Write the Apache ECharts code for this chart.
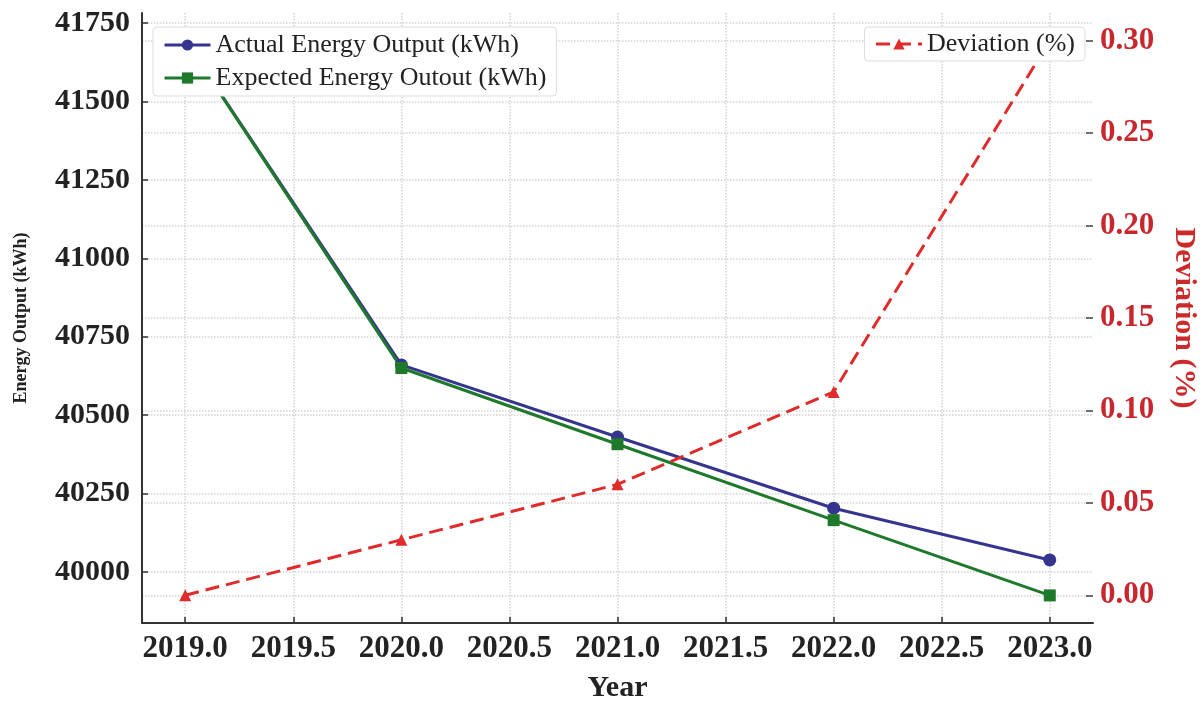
<!DOCTYPE html>
<html>
<head>
<meta charset="utf-8">
<script src="https://cdn.jsdelivr.net/npm/echarts@6/dist/echarts.min.js"></script>
<style>
  html, body { margin: 0; padding: 0; background: #fff; }
  #chart { width: 1203px; height: 702px; }
</style>
</head>
<body>
<div id="chart"></div>
<script>
// 数据
const years = [2019, 2020, 2021, 2022, 2023]
const actualOutput = [41694, 40660, 40430, 40203, 40038]
const expectedOutput = [41694, 40650, 40407, 40165, 39925]
const deviation = [0.0, 0.03, 0.06, 0.11, 0.30]
const xTicks = [2019, 2019.5, 2020, 2020.5, 2021, 2021.5, 2022, 2022.5, 2023]
const leftTicks = [40000, 40250, 40500, 40750, 41000, 41250, 41500, 41750]
const rightTicks = [0, 0.05, 0.1, 0.15, 0.2, 0.25, 0.3]

const pair = (xs, ys) => xs.map((x, i) => [x, ys[i]])

const serif = 'Liberation Serif'
const gridLine = { show: true, lineStyle: { color: '#d4d4d4', type: 'dotted', width: 1.5 } }

const myChart = echarts.init(document.getElementById('chart'))

const option = {
  backgroundColor: '#fff',
  animation: false,
  grid: { left: 142, right: 110, top: 13, bottom: 79, outerBoundsMode: 'none', containLabel: false },
  legend: [
    {
      left: 153,
      top: 27,
      z: 10,
      orient: 'vertical',
      itemWidth: 46,
      itemHeight: 14,
      itemGap: 7,
      padding: [5, 10, 5, 10],
      backgroundColor: '#fff',
      borderColor: '#dddddd',
      borderWidth: 1,
      borderRadius: 4,
      lineStyle: { width: 3 },
      textStyle: { fontFamily: serif, fontSize: 26, color: '#222' },
      data: ['Actual Energy Output (kWh)', 'Expected Energy Outout (kWh)']
    },
    {
      right: 118,
      top: 27,
      z: 10,
      itemWidth: 46,
      itemHeight: 14,
      padding: [4, 10, 4, 10],
      backgroundColor: '#fff',
      borderColor: '#dddddd',
      borderWidth: 1,
      borderRadius: 4,
      lineStyle: { width: 3 },
      textStyle: { fontFamily: serif, fontSize: 26, color: '#222' },
      data: ['Deviation (%)']
    }
  ],
  xAxis: {
    type: 'value',
    min: 2018.8,
    max: 2023.2,
    name: 'Year',
    nameLocation: 'middle',
    nameGap: 50,
    nameTextStyle: { fontFamily: serif, fontSize: 30, fontWeight: 'bold', color: '#222' },
    axisLine: { show: true, onZero: false, lineStyle: { color: '#333', width: 2 } },
    axisTick: { show: true, inside: true, length: 6, customValues: xTicks, lineStyle: { color: '#333', width: 1.5 } },
    axisLabel: {
      customValues: xTicks,
      formatter: v => v.toFixed(1),
      fontFamily: serif, fontSize: 31, fontWeight: 'bold', color: '#222', margin: 10
    },
    splitLine: gridLine
  },
  yAxis: [
    {
      type: 'value',
      min: 39837,
      max: 41782,
      position: 'left',
      name: 'Energy Output (kWh)',
      nameLocation: 'middle',
      nameGap: 112,
      nameTextStyle: { fontFamily: serif, fontSize: 18, fontWeight: 'bold', color: '#222' },
      axisLine: { show: true, onZero: false, lineStyle: { color: '#333', width: 2 } },
      axisTick: { show: true, inside: true, length: 6, customValues: leftTicks, lineStyle: { color: '#333', width: 1.5 } },
      axisLabel: {
        customValues: leftTicks,
        formatter: v => String(v),
        fontFamily: serif, fontSize: 30, fontWeight: 'bold', color: '#222', margin: 12
      },
      splitLine: gridLine
    },
    {
      type: 'value',
      min: -0.015,
      max: 0.315,
      position: 'right',
      name: 'Deviation (%)',
      nameLocation: 'middle',
      nameGap: 76,
      nameRotate: -90,
      nameTextStyle: { fontFamily: serif, fontSize: 30, fontWeight: 'bold', color: '#cc2a2a' },
      axisLine: { show: false, onZero: false },
      axisTick: { show: true, inside: true, length: 7, customValues: rightTicks, lineStyle: { color: '#444', width: 1.5 } },
      axisLabel: {
        customValues: rightTicks,
        formatter: v => v.toFixed(2),
        fontFamily: serif, fontSize: 31, fontWeight: 'bold', color: '#c8282d', margin: 7
      },
      splitLine: gridLine
    }
  ],
  series: [
    {
      name: 'Actual Energy Output (kWh)',
      type: 'line',
      yAxisIndex: 0,
      data: pair(years, actualOutput),
      symbol: 'circle',
      symbolSize: 13,
      color: '#35358f',
      lineStyle: { width: 3, color: '#35358f' },
      itemStyle: { color: '#35358f' },
      z: 2
    },
    {
      name: 'Expected Energy Outout (kWh)',
      type: 'line',
      yAxisIndex: 0,
      data: pair(years, expectedOutput),
      symbol: 'rect',
      symbolSize: 12,
      color: '#1e7a2a',
      lineStyle: { width: 3, color: '#1e7a2a' },
      itemStyle: { color: '#1e7a2a' },
      z: 2
    },
    {
      name: 'Deviation (%)',
      type: 'line',
      yAxisIndex: 1,
      data: pair(years, deviation),
      symbol: 'triangle',
      symbolSize: 12,
      color: '#e02b2b',
      lineStyle: { width: 3, color: '#e02b2b', type: [14, 7] },
      itemStyle: { color: '#e02b2b' },
      z: 2
    }
  ]
}

myChart.setOption(option)
window.addEventListener('resize', () => {
  myChart.resize()
})
</script>
</body>
</html>
